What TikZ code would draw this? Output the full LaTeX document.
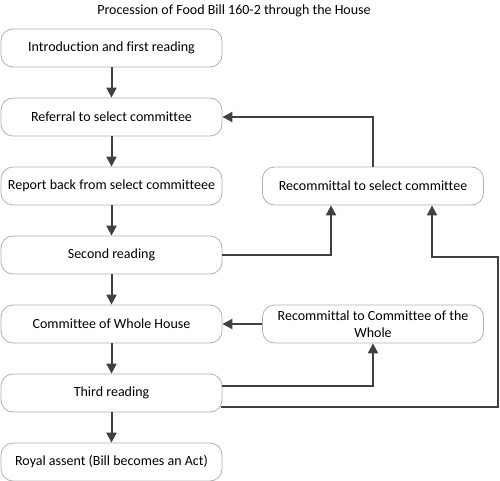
\documentclass[tikz,border=0pt]{standalone}
\usepackage{fontspec}
\setmainfont{Carlito}[Ligatures=NoCommon]
\usetikzlibrary{arrows.meta,calc}
\definecolor{boxgray}{HTML}{B0B0B0}
\definecolor{linegray}{HTML}{404040}
\begin{document}
\begin{tikzpicture}[x=1pt,y=-1pt,
  box/.style={draw=boxgray, line width=0.8pt, rounded corners=12pt, minimum width=221pt, minimum height=38pt, inner sep=2pt, font=\fontsize{14}{17}\selectfont, align=center},
  conn/.style={draw=linegray, line width=2pt, -{Triangle[length=10pt,width=10pt]}},
  plainline/.style={draw=linegray, line width=2pt}]
\useasboundingbox (0,0) rectangle (500,481);
\node[font=\fontsize{14}{17}\selectfont] (title) at (234,11) {Procession of Food Bill 160-2 through the House};
\node[box] (intro) at (111.5,48) {Introduction and first reading};
\node[box] (ref) at (111.5,117) {Referral to select committee};
\node[box] (rep) at (111.5,186) {Report back from select committeee};
\node[box] (sr) at (111.5,255) {Second reading};
\node[box] (cow) at (111.5,324) {Committee of Whole House};
\node[box] (tr) at (111.5,393) {Third reading};
\node[box] (ra) at (111.5,462) {Royal assent (Bill becomes an Act)};
\node[box] (rs) at (373,186) {Recommittal to select committee};
\node[box] (rcw) at (373,324) {Recommittal to Committee of the\\Whole};
\coordinate (c1) at (498,257);
\draw[conn] (intro) -- (ref);
\draw[conn] (ref) -- (rep);
\draw[conn] (rep) -- (sr);
\draw[conn] (sr) -- (cow);
\draw[conn] (cow) -- (tr);
\draw[conn] (tr) -- (ra);
\draw[conn] (rs.north) |- (ref.east);
\draw[conn] (sr.east) -| ($(rs.south)+(-42,0)$);
\draw[conn] (rcw.west) -- (cow.east);
\draw[conn] ($(tr.east)+(0,-7)$) -| (rcw.south);
\draw[conn] ($(tr.east)+(-1.5,13.5)$) -| (c1) -| ($(rs.south)+(59,0)$);
\end{tikzpicture}
\end{document}
